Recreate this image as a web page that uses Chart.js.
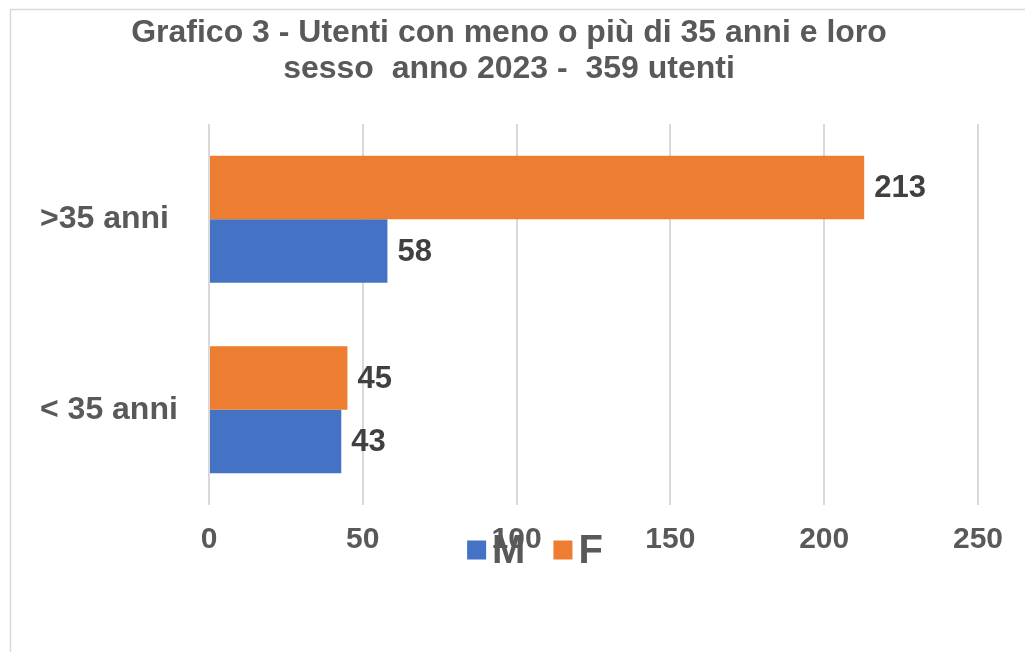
<!DOCTYPE html>
<html>
<head>
<meta charset="utf-8">
<script src="https://cdn.jsdelivr.net/npm/chart.js@4"></script>
<style>
  html, body { margin: 0; padding: 0; background: #ffffff; }
  #wrap { width: 1025px; height: 652px; }
</style>
</head>
<body>
<div id="wrap"><canvas id="utentiChart"></canvas></div>
<script>
// data
const categories = ['>35 anni', '< 35 anni'];
const maschi = [58, 43];
const femmine = [213, 45];
const titleLines = ['Grafico 3 - Utenti con meno o più di 35 anni e loro', 'sesso  anno 2023 -  359 utenti'];
const xMin = 0, xMax = 250, xStep = 50;

const FONT = "'Liberation Sans', Arial, sans-serif";

// light frame round the chart (top and left edge only visible)
const framePlugin = {
    id: 'frame',
    beforeDraw(chart) {
        const ctx = chart.ctx;
        ctx.save();
        ctx.strokeStyle = '#d9d9d9';
        ctx.lineWidth = 1.5;
        ctx.beginPath();
        ctx.moveTo(10.5, chart.height);
        ctx.lineTo(10.5, 9.5);
        ctx.lineTo(chart.width, 9.5);
        ctx.stroke();
        ctx.restore();
    }
};

// value labels at the end of each bar
const valueLabels = {
    id: 'valueLabels',
    afterDatasetsDraw(chart) {
        const ctx = chart.ctx;
        ctx.save();
        ctx.font = 'bold 31px ' + FONT;
        ctx.fillStyle = '#404040';
        ctx.textAlign = 'left';
        ctx.textBaseline = 'middle';
        chart.data.datasets.forEach((ds, i) => {
            chart.getDatasetMeta(i).data.forEach((bar, j) => {
                ctx.fillText(ds.data[j], bar.x + 10, bar.y + 1);
            });
        });
        ctx.restore();
    }
};

// legend drawn over the tick row, like the original (M first, then F)
const overlapLegend = {
    id: 'overlapLegend',
    afterDraw(chart) {
        const ctx = chart.ctx;
        const items = chart.data.datasets.slice().reverse();
        const box = 19, gap = 6, itemGap = 28;
        ctx.save();
        ctx.font = 'bold 40px ' + FONT;
        ctx.textBaseline = 'middle';
        ctx.textAlign = 'left';
        let total = 0;
        items.forEach((ds, i) => {
            total += box + gap + ctx.measureText(ds.label).width + (i < items.length - 1 ? itemGap : 0);
        });
        let x = 535 - total / 2;
        const y = 550;
        items.forEach(ds => {
            ctx.fillStyle = ds.backgroundColor;
            ctx.fillRect(x, y - box / 2, box, box);
            x += box + gap;
            ctx.fillStyle = '#595959';
            ctx.fillText(ds.label, x, y + 2);
            x += ctx.measureText(ds.label).width + itemGap;
        });
        ctx.restore();
    }
};

const chart = new Chart(document.getElementById('utentiChart'), {
    type: 'bar',
    data: {
        labels: categories,
        datasets: [{
            label: 'F',
            data: femmine,
            backgroundColor: '#ED7D31',
            categoryPercentage: 0.667,
            barPercentage: 1
        }, {
            label: 'M',
            data: maschi,
            backgroundColor: '#4472C4',
            categoryPercentage: 0.667,
            barPercentage: 1
        }]
    },
    options: {
        indexAxis: 'y',
        responsive: true,
        maintainAspectRatio: false,
        animation: false,
        layout: {
            padding: { top: 0, left: 40, right: 47, bottom: 77 }
        },
        plugins: {
            legend: { display: false },
            tooltip: { enabled: false },
            title: {
                display: true,
                text: titleLines,
                color: '#595959',
                font: { family: FONT, size: 32, weight: 'bold', lineHeight: 1.125 },
                padding: { top: 15, bottom: 37 }
            }
        },
        scales: {
            x: {
                min: xMin,
                max: xMax,
                ticks: {
                    stepSize: xStep,
                    padding: 17,
                    color: '#595959',
                    font: { family: FONT, size: 30, weight: 'bold', lineHeight: 1.2 }
                },
                grid: {
                    color: '#d9d9d9',
                    lineWidth: 2,
                    drawTicks: false
                },
                border: { display: false }
            },
            y: {
                ticks: {
                    crossAlign: 'far',
                    color: '#595959',
                    font: { family: FONT, size: 32, weight: 'bold', lineHeight: 1.2 }
                },
                grid: { display: false, drawTicks: false },
                border: { display: false },
                afterFit(scale) {
                    scale.width = 169;
                }
            }
        }
    },
    plugins: [framePlugin, valueLabels, overlapLegend]
});
</script>
</body>
</html>
